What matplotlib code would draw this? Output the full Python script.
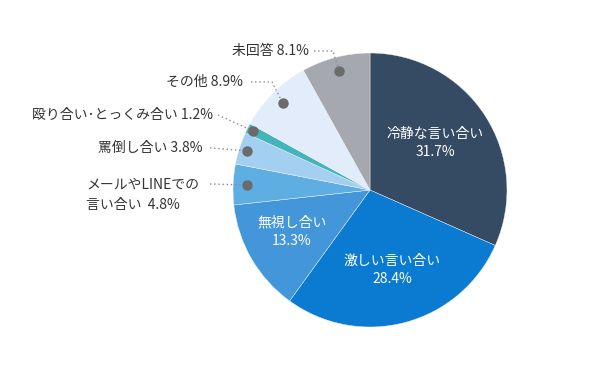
import numpy as np
import matplotlib
matplotlib.use("Agg")
import matplotlib.pyplot as plt

plt.rcParams['font.family'] = ['Noto Sans CJK JP', 'DejaVu Sans']

categories = ["冷静な言い合い", "激しい言い合い", "無視し合い", "メールやLINEでの\n言い合い",
              "罵倒し合い", "殴り合い･とっくみ合い", "その他", "未回答"]
values = [31.7, 28.4, 13.3, 4.8, 3.8, 1.2, 8.9, 8.1]
value_labels = ["31.7%", "28.4%", "13.3%", "4.8%", "3.8%", "1.2%", "8.9%", "8.1%"]
colors = ["#354a63", "#0b7ad1", "#4496da", "#5eaee3", "#a3cff0", "#44b4bc", "#e2ecfb", "#a5a8af"]

W, H = 600, 375
CX, CY, R = 370, 190, 137
FS = 10

fig = plt.figure(figsize=(W / 100, H / 100), dpi=100)
ax = fig.add_axes([(CX - R) / W, (H - CY - R) / H, 2 * R / W, 2 * R / H])

wedges, _ = ax.pie(values, colors=colors, startangle=90, counterclock=False,
                   radius=1.0, center=(0, 0), frame=True,
                   wedgeprops=dict(linewidth=0.3, edgecolor='#f4f6fa'))
ax.set_xlim(-1, 1)
ax.set_ylim(-1, 1)
ax.axis('off')


def p2d(px, py):
    return ((px - CX) / R, (CY - py) / R)


# inside labels (first three slices)
inside_pos = [(435, 143), (392, 270), (292, 232)]
for i, (px, py) in enumerate(inside_pos):
    x, y = p2d(px, py)
    ax.text(x, y, categories[i] + "\n" + value_labels[i], ha='center', va='center',
            color='white', fontsize=FS, linespacing=1.45)

# outside labels with dotted leaders
outside = {
    3: dict(text=(86, 195), ha='left', path=[(210, 184)], rf=0.90),
    4: dict(text=(202, 148), ha='right', path=[(210, 148), (237, 150)], rf=0.94),
    5: dict(text=(213, 115), ha='right', path=[(218, 115)], rf=0.96),
    6: dict(text=(243, 82), ha='right', path=[(251, 82), (272, 82)], rf=0.90),
    7: dict(text=(309, 51), ha='right', path=[(314, 51), (333, 51)], rf=0.90),
}

for i, spec in outside.items():
    w = wedges[i]
    mid = np.deg2rad((w.theta1 + w.theta2) / 2)
    dx, dy = spec['rf'] * np.cos(mid), spec['rf'] * np.sin(mid)
    pts = [p2d(*p) for p in spec['path']] + [(dx, dy)]
    xs, ys = zip(*pts)
    ax.plot(xs, ys, linestyle=(0, (1, 2)), color='#8a8a8a', linewidth=1.0, clip_on=False)
    ax.plot([dx], [dy], 'o', color='#6b6b6b', markersize=6.5, clip_on=False)
    tx, ty = p2d(*spec['text'])
    if i == 3:
        label = categories[i] + "  " + value_labels[i]
        ax.text(tx, ty, label, ha='left', va='center', color='#333333', fontsize=FS,
                linespacing=1.6, multialignment='left', clip_on=False)
    else:
        label = categories[i] + " " + value_labels[i]
        ax.text(tx, ty, label, ha=spec['ha'], va='center', color='#333333', fontsize=FS,
                clip_on=False)

fig.savefig("out.png", dpi=100, facecolor='white')
